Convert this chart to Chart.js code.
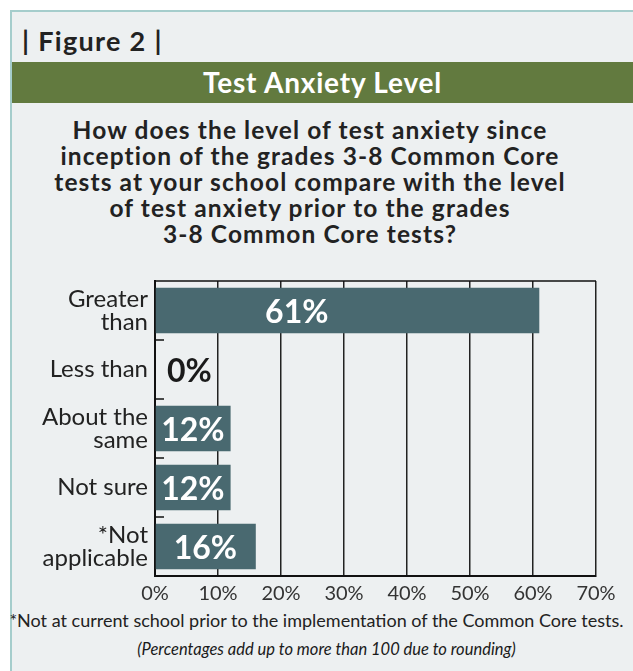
<!DOCTYPE html>
<html>
<head>
<meta charset="utf-8">
<script src="https://cdn.jsdelivr.net/npm/chart.js@4"></script>
<style>
  html, body { margin: 0; padding: 0; background: #fff; width: 633px; height: 671px; overflow: hidden; }
  body { position: relative; font-family: Lato, "Open Sans", sans-serif; }
  #panel { position: absolute; left: 10px; top: 10px; width: 640px; height: 680px;
           background: #edf0f1; border: 2px solid #a5cdcc; box-sizing: border-box; }
  #fig { position: absolute; left: 22px; top: 24px; font-weight: 700; font-size: 27px; color: #222; letter-spacing: 1.3px; }
  #band { position: absolute; left: 12px; top: 62px; width: 621px; height: 41px; background: #627a3f;
          color: #fff; font-weight: 700; font-size: 28px; text-align: center; line-height: 41px; letter-spacing: 0.8px; }
  #question { position: absolute; left: 10px; top: 117px; width: 600px; text-align: center;
              font-weight: 700; font-size: 24.5px; line-height: 26px; color: #222; letter-spacing: 1.1px; }
  #wrap { position: absolute; left: 0; top: 270px; width: 633px; height: 336px; }
  #foot { position: absolute; left: 0; top: 609px; width: 633px; text-align: center; font-size: 18px; color: #222; }
  #note { position: absolute; left: 20px; top: 639px; width: 613px; text-align: center; font-size: 16.5px; color: #1a1a1a;
          font-style: italic; }
</style>
</head>
<body>
<div id="panel"></div>
<div id="fig">| Figure 2 |</div>
<div id="band">Test Anxiety Level</div>
<div id="question">How does the level of test anxiety since<br>inception of the grades 3-8 Common Core<br>tests at your school compare with the level<br>of test anxiety prior to the grades<br>3-8 Common Core tests?</div>
<div id="wrap"><canvas id="chart"></canvas></div>
<div id="foot">*Not at current school prior to the implementation of the Common Core tests.</div>
<div id="note">(Percentages add up to more than 100 due to rounding)</div>
<script>
const categories = [['Greater', 'than'], 'Less than', ['About the', 'same'], 'Not sure', ['*Not', 'applicable']];
const values = [61, 0, 12, 12, 16];
const valueLabels = ['61%', '0%', '12%', '12%', '16%'];
const xTicks = [0, 10, 20, 30, 40, 50, 60, 70];

const barColor = '#496970';

// tick marks between categories, top border line and the value labels
const decorations = {
  id: 'decorations',
  afterDatasetsDraw(chart) {
    const { ctx, chartArea, scales } = chart;
    const y = scales.y, x = scales.x;
    ctx.save();
    ctx.strokeStyle = '#111';
    ctx.lineWidth = 1.5;
    ctx.beginPath();
    ctx.moveTo(chartArea.left, chartArea.top);
    ctx.lineTo(chartArea.right, chartArea.top);
    for (let i = 0; i < categories.length - 1; i++) {
      const py = (y.getPixelForValue(i) + y.getPixelForValue(i + 1)) / 2;
      ctx.moveTo(chartArea.left, py);
      ctx.lineTo(chartArea.left + 9, py);
    }
    ctx.stroke();

    ctx.font = 'bold 32px Lato, sans-serif';
    ctx.textBaseline = 'middle';
    ctx.textAlign = 'center';
    values.forEach((v, i) => {
      const py = y.getPixelForValue(i) + 2;
      if (v === 0) {
        ctx.fillStyle = '#1a1a1a';
        ctx.textAlign = 'left';
        ctx.fillText(valueLabels[i], chartArea.left + 12, py);
        ctx.textAlign = 'center';
      } else {
        ctx.fillStyle = '#fff';
        const px = x.getPixelForValue(Math.min(v / 2, 22.5));
        ctx.fillText(valueLabels[i], px, py);
      }
    });
    ctx.restore();
  }
};

new Chart(document.getElementById('chart'), {
  type: 'bar',
  data: {
    labels: categories,
    datasets: [{
      data: values,
      backgroundColor: barColor,
      barPercentage: 0.77,
      categoryPercentage: 1
    }]
  },
  options: {
    indexAxis: 'y',
    responsive: true,
    maintainAspectRatio: false,
    animation: false,
    layout: { padding: { top: 11, right: 37, left: 0, bottom: 0 } },
    plugins: { legend: { display: false }, tooltip: { enabled: false } },
    scales: {
      x: {
        min: 0, max: 70,
        afterBuildTicks: s => { s.ticks = xTicks.map(v => ({ value: v })); },
        afterFit: s => { s.height = 30; s.paddingLeft = 0; s.paddingRight = 0; },
        grid: { color: '#222', lineWidth: 1.5, drawTicks: false },
        border: { color: '#111', width: 2 },
        ticks: { color: '#333', font: { family: 'Lato', size: 20 }, padding: 6, callback: v => v + '%' }
      },
      y: {
        afterFit: s => { s.width = 155; s.paddingTop = 0; s.paddingBottom = 0; },
        grid: { display: false, drawTicks: false },
        border: { color: '#111', width: 2 },
        ticks: { color: '#222', font: { family: 'Lato', size: 24, lineHeight: 0.95 }, padding: 7 }
      }
    }
  },
  plugins: [decorations]
});
</script>
</body>
</html>
